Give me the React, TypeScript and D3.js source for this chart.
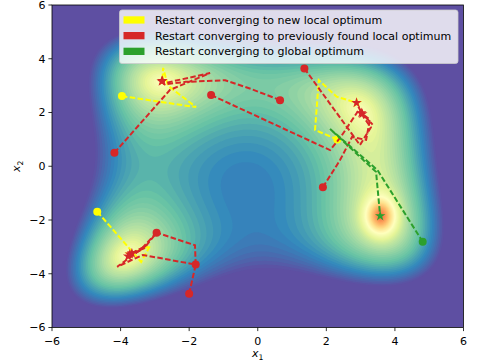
import React, { useMemo } from "react";
import * as d3 from "d3";

const xTicks = [-6, -4, -2, 0, 2, 4, 6];
const yTicks = [-6, -4, -2, 0, 2, 4, 6];

// restarts: first point = restart, last point = optimum reached
const newLocalRuns = [
  [[-3.96, 2.61], [-1.8, 2.2], [-2.62, 3.0], [-2.76, 3.66], [-2.78, 3.18]],
  [[2.32, 1.0], [1.67, 1.35], [1.78, 3.2], [2.3, 2.59], [2.89, 2.36]],
  [[-4.68, -1.69], [-3.4, -3.56], [-3.14, -2.96], [-3.73, -3.27]],
];

const knownLocalRuns = [
  [[-4.18, 0.5], [-2.56, 2.84], [-1.39, 3.47], [-2.62, 3.12], [-2.78, 3.18]],
  [[0.65, 2.46], [-0.2, 2.88], [-0.95, 3.2], [-2.1, 3.14], [-2.72, 3.05], [-2.8, 3.16]],
  [[-1.36, 2.65], [2.11, 0.6], [2.42, 1.09], [2.95, 2.1], [3.35, 1.55], [3.05, 1.95]],
  [[1.36, 3.64], [2.98, 0.79], [3.3, 1.45], [3.1, 1.8], [2.88, 2.36]],
  [[1.9, -0.78], [2.4, 0.23], [2.75, 1.09], [3.16, 0.98], [3.27, 1.73], [3.02, 1.98]],
  [[-2.0, -4.74], [-1.81, -3.66], [-3.35, -3.3], [-4.1, -3.74], [-3.26, -2.96], [-3.73, -3.27]],
  [[-1.81, -3.66], [-1.83, -2.94], [-2.95, -2.47], [-3.32, -3.06], [-3.67, -3.24]],
  [[-2.95, -2.47], [-3.43, -3.13], [-3.78, -3.35]],
];

const globalRuns = [
  [[4.81, -2.81], [3.49, -0.14], [2.11, 1.39], [3.45, -0.21], [3.57, -1.85]],
];

const legendLabels = [
  "Restart converging to new local optimum",
  "Restart converging to previously found local optimum",
  "Restart converging to global optimum",
];
const legendColors = ["#ffff00", "#d62728", "#2ca02c"];

// matplotlib "Spectral_r" stops
const spectralStops = [
  "#5e4fa2", "#3288bd", "#66c2a5", "#abdda4", "#e6f598", "#ffffbf",
  "#fee08b", "#fdae61", "#f46d43", "#d53e4f", "#9e0142",
];

// Himmelblau landscape, with the global basin made deeper
function surface(x: number, y: number) {
  const f = (x * x + y - 11) ** 2 + (x + y * y - 7) ** 2;
  const bump = 0.3 * Math.exp(-(((x - 3.584) / 0.3) ** 2 + ((y + 1.848) / 0.45) ** 2) / 2);
  return 0.5 - 0.04 * Math.pow(f, 0.45) + bump;
}

const spectralInterp = d3.piecewise(d3.interpolateRgb, spectralStops);
const spectralR = (t: number) => spectralInterp(Math.max(0, Math.min(1, t)));

export default function App() {
  const width = 479;
  const height = 362;
  const margin = { top: 5, right: 15.5, bottom: 34.5, left: 52 };
  const pw = width - margin.left - margin.right;
  const ph = height - margin.top - margin.bottom;

  const x = d3.scaleLinear().domain([-6, 6]).range([margin.left, margin.left + pw]);
  const y = d3.scaleLinear().domain([-6, 6]).range([margin.top + ph, margin.top]);

  const bands = useMemo(() => {
    const nx = 240;
    const ny = 240;
    const values = new Array(nx * ny);
    for (let j = 0; j < ny; j++) {
      for (let i = 0; i < nx; i++) {
        const xv = -6 + ((i + 0.5) * 12) / nx;
        const yv = 6 - ((j + 0.5) * 12) / ny;
        values[j * nx + i] = surface(xv, yv);
      }
    }
    const step = 0.014;
    const levels = d3.range(0, 0.84, step);
    const proj = d3.geoTransform({
      point(px: number, py: number) {
        (this as any).stream.point(margin.left + (px * pw) / nx, margin.top + (py * ph) / ny);
      },
    });
    const path = d3.geoPath(proj);
    return d3
      .contours()
      .size([nx, ny])
      .thresholds(levels)(values)
      .map((c) => ({ d: path(c as any) || "", fill: spectralR(c.value + step / 2) }));
  }, []);

  const line = d3
    .line<number[]>()
    .x((d) => x(d[0]))
    .y((d) => y(d[1]));
  const star = d3.symbol().type(d3.symbolStar).size(34)();

  const groups = [
    { runs: newLocalRuns, color: legendColors[0] },
    { runs: knownLocalRuns, color: legendColors[1] },
    { runs: globalRuns, color: legendColors[2] },
  ];

  const font = "DejaVu Sans, sans-serif";
  const fs = 11;

  return (
    <svg
      width={width}
      height={height}
      style={{ position: "absolute", left: 0, top: 0, background: "#fff" }}
      fontFamily={font}
    >
      <defs>
        <clipPath id="plot-area">
          <rect x={margin.left} y={margin.top} width={pw} height={ph} />
        </clipPath>
      </defs>
      <g clipPath="url(#plot-area)">
        <rect x={margin.left} y={margin.top} width={pw} height={ph} fill={spectralR(0)} />
        {bands.map((b, i) => (
          <path key={i} d={b.d} fill={b.fill} />
        ))}
        {groups.map((g, gi) => (
          <g key={gi}>
            {g.runs.map((run, ri) => (
              <g key={ri}>
                <path
                  d={line(run) || ""}
                  fill="none"
                  stroke={g.color}
                  strokeWidth={2}
                  strokeDasharray="5.5,2.4"
                />
                <circle cx={x(run[0][0])} cy={y(run[0][1])} r={4} fill={g.color} />
                <path
                  d={star || ""}
                  transform={`translate(${x(run[run.length - 1][0])},${y(run[run.length - 1][1])})`}
                  fill={g.color}
                />
              </g>
            ))}
          </g>
        ))}
      </g>
      <rect
        x={margin.left}
        y={margin.top}
        width={pw}
        height={ph}
        fill="none"
        stroke="#000"
        strokeWidth={0.8}
      />
      {xTicks.map((t) => (
        <g key={`x${t}`}>
          <line x1={x(t)} x2={x(t)} y1={margin.top + ph} y2={margin.top + ph + 3.6} stroke="#000" strokeWidth={0.8} />
          <text x={x(t)} y={margin.top + ph + 17} textAnchor="middle" fontSize={fs}>
            {t < 0 ? `\u2212${-t}` : t}
          </text>
        </g>
      ))}
      {yTicks.map((t) => (
        <g key={`y${t}`}>
          <line x1={margin.left - 3.6} x2={margin.left} y1={y(t)} y2={y(t)} stroke="#000" strokeWidth={0.8} />
          <text x={margin.left - 6.5} y={y(t)} dy="0.36em" textAnchor="end" fontSize={fs}>
            {t < 0 ? `\u2212${-t}` : t}
          </text>
        </g>
      ))}
      <text x={x(0)} y={357} textAnchor="middle" fontSize={fs}>
        <tspan fontStyle="italic">x</tspan>
        <tspan fontSize={7.7} dy={2.5}>1</tspan>
      </text>
      <text transform={`translate(20,${y(0)}) rotate(-90)`} textAnchor="middle" fontSize={fs}>
        <tspan fontStyle="italic">x</tspan>
        <tspan fontSize={7.7} dy={2.5}>2</tspan>
      </text>
      <g>
        <rect x={119.5} y={10} width={338.5} height={53.5} rx={2.5} fill="#fff" fillOpacity={0.8} stroke="#cccccc" strokeWidth={0.8} />
        {legendLabels.map((label, i) => (
          <g key={label}>
            <rect x={123.5} y={16.3 + i * 15.7} width={21} height={7.3} fill={legendColors[i]} />
            <text x={155} y={20 + i * 15.7} dy="0.36em" fontSize={fs}>
              {label}
            </text>
          </g>
        ))}
      </g>
    </svg>
  );
}
